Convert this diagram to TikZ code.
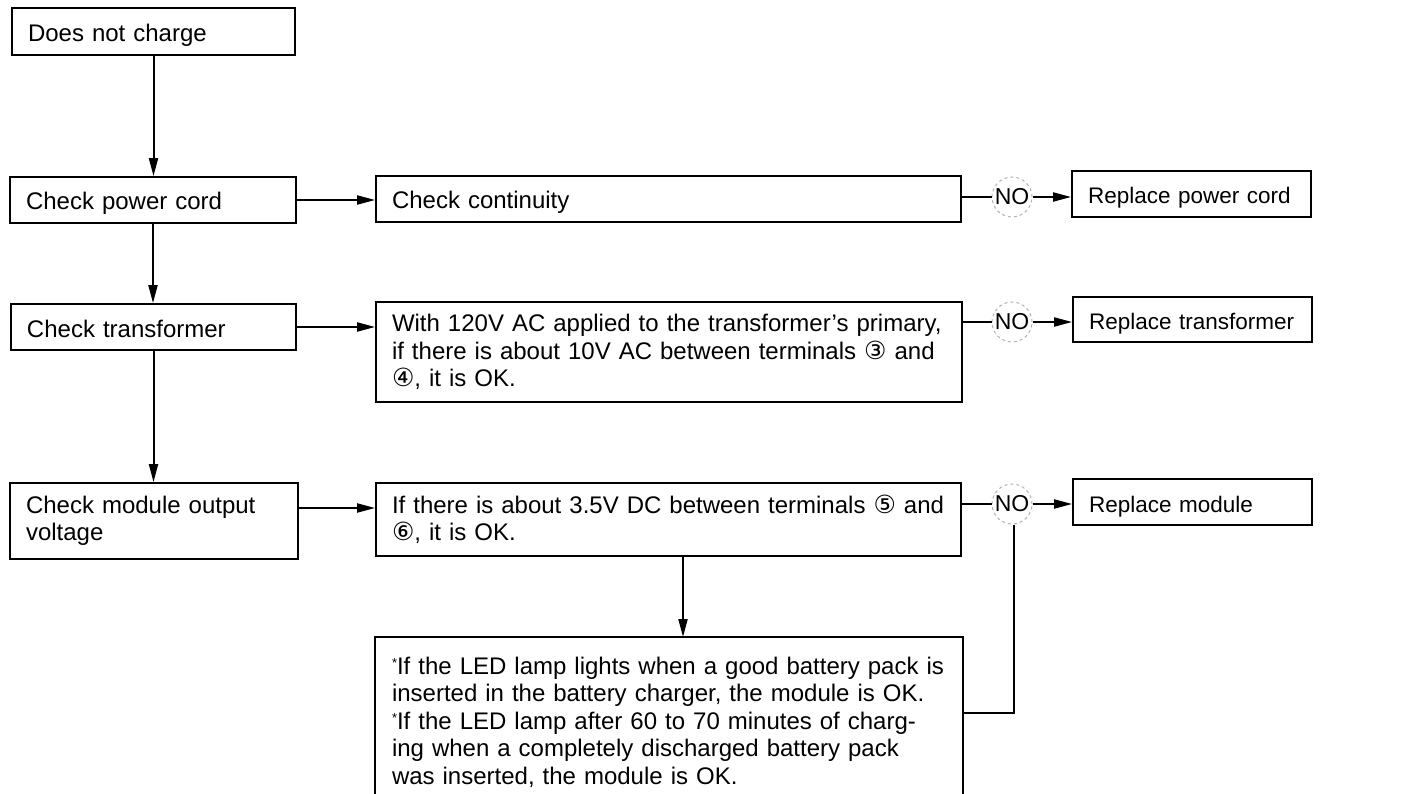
\documentclass[tikz,border=0pt]{standalone}
\usepackage{fontspec}
\setmainfont{Liberation Sans}
\newfontfamily\dvfont{DejaVu Sans}
\usetikzlibrary{arrows.meta,calc}
\newcommand\circnum[1]{{\dvfont\fontsize{25}{25}\selectfont #1}}
\newcommand\bul{\raisebox{0.3em}{\fontsize{13}{13}\selectfont *}}
\begin{document}
\begin{tikzpicture}[x=1pt,y=-1pt,
  box/.style={draw, line width=1.8pt, rectangle, inner xsep=16pt, inner ysep=0pt, align=left, font=\fontsize{24}{27.5}\selectfont},
  oneline/.style={text height=20pt, text depth=0pt},
  rbox/.style={box, oneline, text width=207pt, font=\fontsize{22.5}{27}\selectfont},
  conn/.style={line width=2pt},
  arr/.style={conn, -{Triangle[length=18pt,width=9pt]}},
  nocirc/.style={circle, draw=gray!60, dashed, line width=1pt, minimum size=40pt, inner sep=0pt, font=\fontsize{23}{23}\selectfont}]
\useasboundingbox (0,0) rectangle (1421,794);
\fill[white] (0,0) rectangle (1421,794);

% left column
\node[box, oneline, text width=251pt, minimum height=47pt] (n1) at (153.5,31.5) {Does not charge};
\node[box, oneline, text width=254pt, minimum height=46pt] (n2) at (153,200) {Check power cord};
\node[box, oneline, text width=253pt, minimum height=46pt] (n3) at (153.5,327) {Check transformer};
\node[box, text width=256pt, minimum height=76pt] (n4) at (154,521) {Check module output\\voltage};

% middle column
\node[box, oneline, text width=553pt, minimum height=46pt] (c1) at (668.5,199) {Check continuity};
\node[box, text width=554pt, minimum height=100pt] (c2) at (669,352)
  {\mbox{With 120V AC applied to the transformer’s primary,}\\
   \mbox{if there is about 10V AC between terminals \circnum{③} and}\\
   \circnum{④}, it is OK.};
\node[box, text width=553pt, minimum height=73pt] (c3) at (668.5,519.5)
  {\mbox{If there is about 3.5V DC between terminals \circnum{⑤} and}\\
   \circnum{⑥}, it is OK.};
\node[box, draw=none, text width=554pt, inner ysep=19pt, anchor=north] (c4) at (669,637)
  {\mbox{\bul If the LED lamp lights when a good battery pack is}\\
   \mbox{inserted in the battery charger, the module is OK.}\\
   \mbox{\bul If the LED lamp after 60 to 70 minutes of charg-}\\
   \mbox{ing when a completely discharged battery pack}\\
   \mbox{was inserted, the module is OK.}};
\coordinate (pagebottom) at (0,794);
\draw[line width=1.8pt] (c4.north west |- pagebottom) -- (c4.north west) -- (c4.north east) -- (c4.north east |- pagebottom);

% NO circles
\node[nocirc] (o1) at (1012,197) {NO};
\node[nocirc] (o2) at (1012,322) {NO};
\node[nocirc] (o3) at (1012,504) {NO};

% right column
\node[rbox, minimum height=46pt] (r1) at (1191.5,194) {\mbox{Replace power cord}};
\node[rbox, minimum height=45pt] (r2) at (1192.5,319.5) {\mbox{Replace transformer}};
\node[rbox, minimum height=46pt] (r3) at (1192.5,502) {\mbox{Replace module}};

% connectors
\draw[arr] (n1.south) -- (n1.south |- n2.north);
\draw[arr] (n2.south) -- (n2.south |- n3.north);
\draw[arr] (n3.south) -- (n3.south |- n4.north);

\draw[arr] (n2.east) -- (n2.east -| c1.west);
\draw[arr] (n3.east) -- (n3.east -| c2.west);
\draw[arr] (n4.east |- 0,508) -- (c3.west |- 0,508);

\draw[conn] (c1.east |- o1) -- (o1.west);
\draw[arr] (o1.east) -- (o1 -| r1.west);
\draw[conn] (c2.east |- o2) -- (o2.west);
\draw[arr] (o2.east) -- (o2 -| r2.west);
\draw[conn] (c3.east |- o3) -- (o3.west);
\draw[arr] (o3.east) -- (o3 -| r3.west);

\draw[arr] ([xshift=14.5pt]c3.south) -- ([xshift=14.5pt]c3.south |- c4.north);
\coordinate (j) at (1014,713);
\draw[conn] (o3.south -| j) -- (j) -- (j -| c4.east);
\end{tikzpicture}
\end{document}
